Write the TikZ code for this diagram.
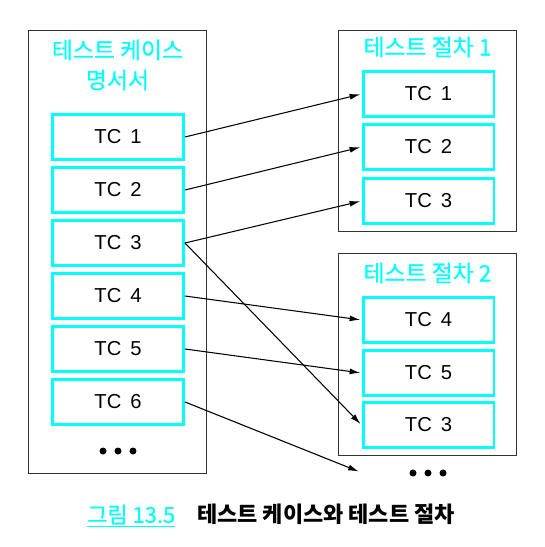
\documentclass[tikz,border=0pt]{standalone}
\usepackage{fontspec}
\setmainfont{Liberation Sans}
\newfontfamily\kr{Noto Sans CJK KR}
\newfontfamily\krt[FakeBold=0.6]{Noto Sans CJK KR}
\usetikzlibrary{arrows.meta}
\definecolor{tccyan}{RGB}{0,255,255}

\begin{document}
\begin{tikzpicture}[x=0.02cm, y=-0.02cm,
    frame/.style={draw=black!80, line width=0.7pt, minimum width=3.56cm},
    tc/.style={draw=tccyan, line width=1.7pt, minimum width=2.62cm, minimum height=0.9cm, font=\fontsize{11.5}{13}\selectfont},
    ttl/.style={text=tccyan, font=\krt\fontsize{13}{17}\selectfont, align=center},
    arr/.style={-{Latex[length=6pt, width=3.4pt]}, line width=0.6pt, shorten >=0.8pt},
]
\useasboundingbox (0,0) rectangle (544,547);

% Frames
\node[frame, minimum height=8.86cm] (spec) at (117.5,252) {};
\node[frame, minimum height=4.02cm] (proc1) at (427.5,131) {};
\node[frame, minimum height=4.04cm] (proc2) at (427.5,354.5) {};

% Titles
\node[ttl] (specttl) at (117.5,65) {테스트 케이스\\명서서};
\node[ttl] (proc1ttl) at (427.5,47) {테스트 절차 1};
\node[ttl] (proc2ttl) at (427.5,273) {테스트 절차 2};

% Test cases - specification
\node[tc] (s1) at (118,137) {TC\, 1};
\node[tc] (s2) at (118,190) {TC\, 2};
\node[tc] (s3) at (118,243) {TC\, 3};
\node[tc] (s4) at (118,296) {TC\, 4};
\node[tc] (s5) at (118,349) {TC\, 5};
\node[tc] (s6) at (118,402) {TC\, 6};

% Test cases - procedures
\node[tc] (p1) at (428.5,94) {TC\, 1};
\node[tc] (p2) at (428.5,147) {TC\, 2};
\node[tc] (p3) at (428.5,201) {TC\, 3};
\node[tc] (q4) at (428.5,320) {TC\, 4};
\node[tc] (q5) at (428.5,373) {TC\, 5};
\node[tc] (q3) at (428.5,425) {TC\, 3};

% More
\coordinate (moreL) at (118,451);
\coordinate (moreR) at (428,473);
\foreach \d in {-15,0,15} {
  \fill ([xshift=\d*0.2mm]moreL) circle (0.07cm);
  \fill ([xshift=\d*0.2mm]moreR) circle (0.07cm);
}
\coordinate (toMore) at (360,472);

% Arrows
\draw[arr] (s1.east) -- (p1.west);
\draw[arr] (s2.east) -- (p2.west);
\draw[arr] (s3.east) -- (p3.west);
\draw[arr] (s3.east) -- (q3.west);
\draw[arr] (s4.east) -- (q4.west);
\draw[arr] (s5.east) -- (q5.west);
\draw[arr] (s6.east) -- (toMore);

% Caption
\node (cap) at (271,516) {\fontsize{12.5}{14}\selectfont{\krt\color{tccyan}\underline{그림 13.5}}\quad{\kr\bfseries 테스트 케이스와 테스트 절차}};

\end{tikzpicture}
\end{document}
